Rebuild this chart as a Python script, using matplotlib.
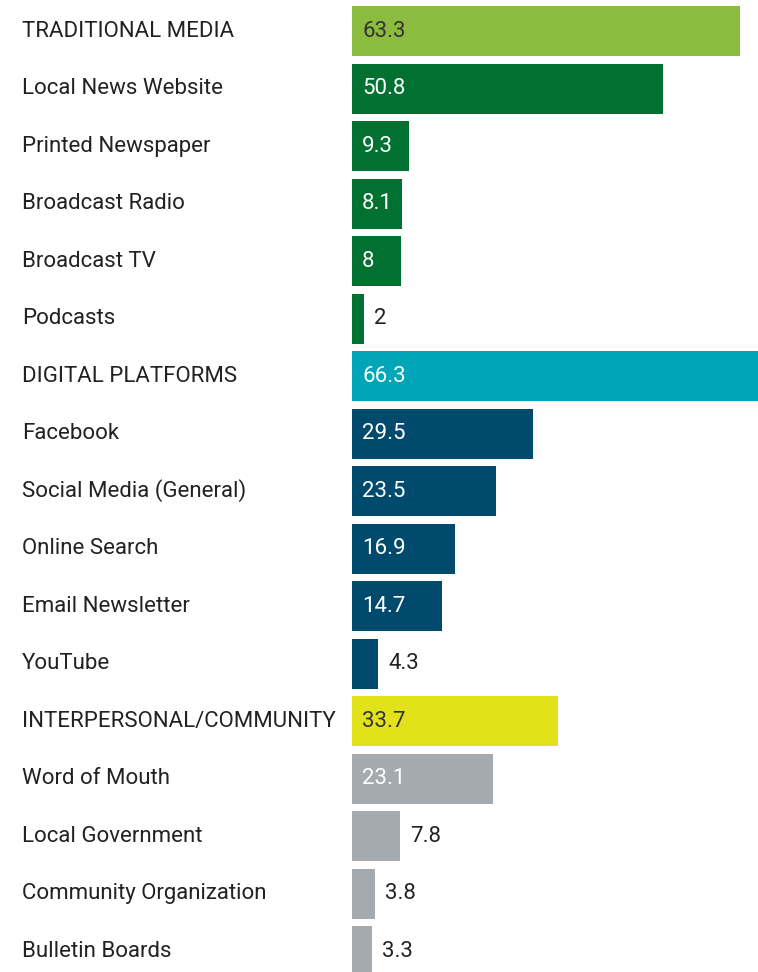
import matplotlib
matplotlib.use("Agg")
import matplotlib.pyplot as plt
import matplotlib.transforms as mtransforms

plt.rcParams['font.family'] = ['Roboto', 'DejaVu Sans']

categories = ["TRADITIONAL MEDIA", "Local News Website", "Printed Newspaper",
              "Broadcast Radio", "Broadcast TV", "Podcasts",
              "DIGITAL PLATFORMS", "Facebook", "Social Media (General)",
              "Online Search", "Email Newsletter", "YouTube",
              "INTERPERSONAL/COMMUNITY", "Word of Mouth", "Local Government",
              "Community Organization", "Bulletin Boards"]
values = [63.3, 50.8, 9.3, 8.1, 8, 2,
          66.3, 29.5, 23.5, 16.9, 14.7, 4.3,
          33.7, 23.1, 7.8, 3.8, 3.3]
value_labels = ["63.3", "50.8", "9.3", "8.1", "8", "2",
                "66.3", "29.5", "23.5", "16.9", "14.7", "4.3",
                "33.7", "23.1", "7.8", "3.8", "3.3"]
groups = ["trad_head"] + ["trad"] * 5 + ["dig_head"] + ["dig"] * 5 + ["comm_head"] + ["comm"] * 4

colors = {"trad_head": "#8BBC3F", "trad": "#007131", "dig_head": "#00A6B8",
          "dig": "#004B6D", "comm_head": "#E2E21B", "comm": "#A4AAAD"}
inside_text = {"trad_head": "#333333", "trad": "white", "dig_head": "white",
               "dig": "white", "comm_head": "#333333", "comm": "white"}

W, H = 758, 972
fig = plt.figure(figsize=(W / 100, H / 100), dpi=100)
ax = fig.add_axes([352 / W, 0, (W - 352) / W, 1])
ax.set_xlim(0, 66.3)
row = 57.5
ax.set_ylim((H - 31) / row, -31 / row)
ax.axis("off")

ys = list(range(len(categories)))
ax.barh(ys, values, height=50 / row, color=[colors[g] for g in groups], left=0)

px = 66.3 / (W - 352)  # data units per pixel
trans = mtransforms.blended_transform_factory(fig.transFigure, ax.transData)
for y, cat, v, lab, g in zip(ys, categories, values, value_labels, groups):
    ax.text(22 / W, y, cat, transform=trans, ha="left", va="center",
            fontsize=16, color="#222222")
    if v >= 8:
        ax.text(10 * px, y, lab, ha="left", va="center", fontsize=16,
                color=inside_text[g])
    else:
        ax.text(v + 10 * px, y, lab, ha="left", va="center", fontsize=16,
                color="#222222")

fig.savefig("out.png", dpi=100)
